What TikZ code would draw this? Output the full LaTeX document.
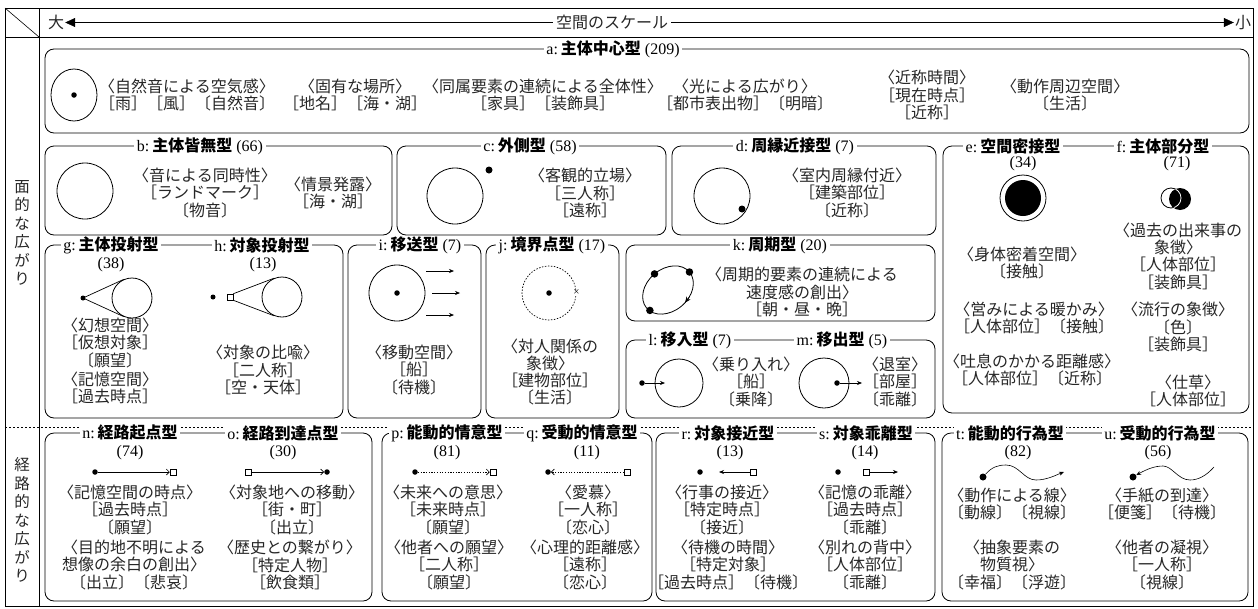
\documentclass[tikz,border=0pt]{standalone}
\usepackage{fontspec}
\setmainfont{Liberation Serif}
\newfontfamily\jp{Noto Sans CJK JP}
\usetikzlibrary{arrows.meta}
\newcommand\tlab[1]{{\rmfamily\mdseries #1:}\hspace{3pt}}
\newcommand\cnt[1]{\hspace{4pt}{\rmfamily\mdseries (#1)}}
\begin{document}
\begin{tikzpicture}[x=1pt,y=-1pt,
 box/.style={draw,line width=0.8pt,rounded corners=9pt},
 ttl/.style={fill=white,inner xsep=2.5pt,inner ysep=0.5pt,font=\jp\bfseries\fontsize{16}{18}\selectfont},
 num/.style={inner sep=0pt,font=\rmfamily\fontsize{16}{18}\selectfont},
 txt/.style={inner sep=0pt,align=center,text=black!85,font=\jp\fontsize{16}{17.3}\selectfont},
 vtxt/.style={inner sep=0pt,align=center,text=black!85,font=\jp\fontsize{15.5}{18.5}\selectfont},
 dot/.style={circle,fill,inner sep=0pt,minimum size=5.5pt},
 sq/.style={draw,fill=white,inner sep=0pt,minimum size=6pt,line width=0.5pt},
 ring/.style={circle,draw,line width=0.8pt,inner sep=0pt},
 arr/.style={line width=0.6pt,-{Stealth[length=5pt,width=4pt]}},
 barb/.style={line width=0.6pt,-{Straight Barb[length=3pt,width=6pt]}},
 dbarb/.style={line width=0.6pt,dash pattern=on 1.2pt off 1.5pt,-{Straight Barb[length=3pt,width=6pt]}},
 hd/.style={inner sep=1pt,font=\jp\fontsize{16}{17}\selectfont,text=black!85},
]
\useasboundingbox (0,0) rectangle (1258,608);
% frame
\draw[line width=0.8pt] (5,8) rectangle (1253,606);
\draw[line width=0.8pt] (39,8) -- (39,606);
\draw[line width=0.8pt] (5,37) -- (1253,37);
\draw[line width=0.6pt] (5,8) -- (39,37);
\draw[line width=0.7pt,dash pattern=on 1.5pt off 2.5pt] (5,427) -- (1253,427);
% header
\node[hd] (dai) at (56,22.5) {大};
\node[hd] (sho) at (1243,22.5) {小};
\node[hd,fill=white,inner xsep=3pt] (scl) at (612,22.5) {空間のスケール};
\draw[line width=0.6pt,-{Triangle[length=10pt,width=9pt]}] (scl.west) -- (dai.east);
\draw[line width=0.6pt,-{Triangle[length=10pt,width=9pt]}] (scl.east) -- (sho.west);
% vertical labels
\node[vtxt] (v1) at (22,233) {面\\的\\な\\広\\が\\り};
\node[vtxt] (v2) at (22,520) {経\\路\\的\\な\\広\\が\\り};

% ---------- a
\draw[box] (45,49) rectangle (1249,133);
\node[ttl] (ta) at (613,49) {\tlab{a}主体中心型\cnt{209}};
\draw[line width=0.8pt] (74,95) ellipse [x radius=23pt, y radius=26pt];
\node[dot] (adot) at (74,95) {};
\node[txt] (a1) at (187,95) {〈自然音による空気感〉\\［雨］［風］〔自然音〕};
\node[txt] (a2) at (355,95) {〈固有な場所〉\\［地名］［海・湖］};
\node[txt] (a3) at (543,95) {〈同属要素の連続による全体性〉\\［家具］［装飾具］};
\node[txt] (a4) at (745,95) {〈光による広がり〉\\［都市表出物］〔明暗〕};
\node[txt] (a5) at (927,95) {〈近称時間〉\\［現在時点］\\［近称］};
\node[txt] (a6) at (1065,95) {〈動作周辺空間〉\\〔生活〕};

% ---------- b
\draw[box] (45,146) rectangle (392,235);
\node[ttl] (tb) at (200,146) {\tlab{b}主体皆無型\cnt{66}};
\node[ring,minimum size=56pt] (bc) at (85,191) {};
\node[txt] (b1) at (205,193) {〈音による同時性〉\\［ランドマーク］\\〔物音〕};
\node[txt] (b2) at (333,193) {〈情景発露〉\\［海・湖］};
% ---------- c
\draw[box] (397,146) rectangle (666,235);
\node[ttl] (tc) at (530,146) {\tlab{c}外側型\cnt{58}};
\node[ring,minimum size=56pt] (cc) at (455,196) {};
\node[dot,minimum size=7pt] (cdot) at (489,170) {};
\node[txt] (c1) at (585,193) {〈客観的立場〉\\［三人称］\\［遠称］};
% ---------- d
\draw[box] (672,146) rectangle (936,235);
\node[ttl] (td) at (795,146) {\tlab{d}周縁近接型\cnt{7}};
\node[ring,minimum size=56pt] (dc) at (722,196) {};
\node[dot,minimum size=7pt] (ddot) at (742,209) {};
\node[txt] (d1) at (847,193) {〈室内周縁付近〉\\［建築部位］\\〔近称〕};
% ---------- e/f
\draw[box] (943,146) rectangle (1249,413);
\node[ttl] (te) at (1013,146) {\tlab{e}空間密接型};
\node[ttl] (tf) at (1163,146) {\tlab{f}主体部分型};
\node[num] (ne) at (1023,164) {(34)};
\node[num] (nf) at (1177,164) {(71)};
\node[ring,minimum size=46pt] (eo) at (1023,198) {};
\node[circle,fill,inner sep=0pt,minimum size=36pt] (ei) at (1023,198) {};
\node[circle,fill,inner sep=0pt,minimum size=22pt] (fb) at (1180,199) {};
\node[ring,minimum size=20pt] (fa) at (1171,198) {};
\begin{scope}
\clip (1180,199) circle (10.6pt);
\draw[white,line width=0.8pt] (1171,198) circle (10pt);
\end{scope}
\node[txt] (e1) at (1022,263) {〈身体密着空間〉\\〔接触〕};
\node[txt] (f1) at (1178,256) {〈過去の出来事の\\象徴〉\\［人体部位］\\［装飾具］};
\node[txt] (e2) at (1034,318) {〈営みによる暖かみ〉\\［人体部位］〔接触〕};
\node[txt] (f2) at (1178,327) {〈流行の象徴〉\\〔色〕\\［装飾具］};
\node[txt] (e3) at (1032,370) {〈吐息のかかる距離感〉\\［人体部位］〔近称〕};
\node[txt] (f3) at (1188,391) {〈仕草〉\\［人体部位］};

% ---------- g/h
\draw[box] (45,245) rectangle (343,418);
\node[ttl] (tg) at (111,245) {\tlab{g}主体投射型};
\node[ttl] (th) at (262,245) {\tlab{h}対象投射型};
\node[num] (ng) at (111,265) {(38)};
\node[num] (nh) at (263,265) {(13)};
\node[dot,minimum size=5pt] (gdot) at (83,298) {};
\node[ring,minimum size=40pt] (gc) at (132,298) {};
\draw[line width=0.7pt] (gdot.center) -- (gc.114);
\draw[line width=0.7pt] (gdot.center) -- (gc.246);
\node[txt] (g1) at (110,343) {〈幻想空間〉\\［仮想対象］\\〔願望〕};
\node[txt] (g2) at (110,388) {〈記憶空間〉\\［過去時点］};
\node[dot,minimum size=5pt] (hdot) at (213,297) {};
\node[sq] (hsq) at (230,297) {};
\node[ring,minimum size=40pt] (hc) at (282,297) {};
\draw[line width=0.7pt] (hsq.north east) -- (hc.113);
\draw[line width=0.7pt] (hsq.south east) -- (hc.247);
\node[txt] (h1) at (263,370) {〈対象の比喩〉\\［二人称］\\［空・天体］};
% ---------- i
\draw[box] (348,245) rectangle (481,418);
\node[ttl] (ti) at (420,245) {\tlab{i}移送型\cnt{7}};
\node[ring,minimum size=56pt] (ic) at (397,293) {};
\node[dot] (idot) at (ic) {};
\coordinate (i1s) at (426,271); \coordinate (i1e) at (454,271);
\coordinate (i2s) at (432,293); \coordinate (i2e) at (460,293);
\coordinate (i3s) at (426,315); \coordinate (i3e) at (454,315);
\draw[arr] (i1s) -- (i1e);
\draw[arr] (i2s) -- (i2e);
\draw[arr] (i3s) -- (i3e);
\node[txt] (i1) at (414,370) {〈移動空間〉\\［船］\\〔待機〕};
% ---------- j
\draw[box] (486,245) rectangle (619,418);
\node[ttl] (tj) at (552,245) {\tlab{j}境界点型\cnt{17}};
\node[circle,draw,line width=0.7pt,dash pattern=on 1.5pt off 1.5pt,inner sep=0pt,minimum size=54pt] (jc) at (549,293) {};
\node[dot] (jdot) at (jc) {};
\node[inner sep=0pt,fill=white,font=\rmfamily\fontsize{11}{11}\selectfont] (jx) at (jc.east) {×};
\node[txt] (j1) at (550,372) {〈対人関係の\\象徴〉\\［建物部位］\\〔生活〕};
% ---------- k
\draw[box] (626,245) rectangle (935,321);
\node[ttl] (tk) at (780,245) {\tlab{k}周期型\cnt{20}};
\begin{scope}[rotate around={40:(668,290)}]
\draw[line width=0.8pt] (668,290) ellipse [x radius=28pt, y radius=21pt];
\node[dot,minimum size=7.5pt] (k1) at (696,290) {};
\node[dot,minimum size=7.5pt] (k2) at (668,269) {};
\node[dot,minimum size=7.5pt] (k3) at (641,294) {};
\coordinate (kas) at (679.8,309.0);
\coordinate (kae) at (672.9,310.7);
\draw[line width=0.6pt,-{Stealth[length=6pt,width=5pt]}] (kas) -- (kae);
\end{scope}
\node[txt] (k4) at (802,292) {〈周期的要素の連続による\\速度感の創出〉\\［朝・昼・晩］};
% ---------- l/m
\draw[box] (626,340) rectangle (935,418);
\node[ttl] (tl) at (690,340) {\tlab{l}移入型\cnt{7}};
\node[ttl] (tm) at (842,340) {\tlab{m}移出型\cnt{5}};
\node[dot] (ldot) at (642,383) {};
\node[ring,minimum size=48pt] (lc) at (679,383) {};
\coordinate (lae) at (665,383);
\draw[arr] (ldot) -- (lae);
\node[txt] (l1) at (751,382) {〈乗り入れ〉\\［船］\\〔乗降〕};
\node[ring,minimum size=50pt] (mc) at (824,383) {};
\node[dot] (mdot) at (837,383) {};
\coordinate (mae) at (862,383);
\draw[arr] (mdot) -- (mae);
\node[txt] (m1) at (895,382) {〈退室〉\\［部屋］\\〔乖離〕};

% ---------- n/o
\draw[box] (45,433) rectangle (372,601);
\node[ttl] (tn) at (130,433) {\tlab{n}経路起点型};
\node[ttl] (to) at (283,433) {\tlab{o}経路到達点型};
\node[num] (nn) at (130,453) {(74)};
\node[num] (no) at (283,453) {(30)};
\node[dot] (ndot) at (95,472) {};
\node[sq] (nsq) at (173,472) {};
\draw[barb] (ndot) -- (nsq);
\node[sq] (osq) at (248,472) {};
\node[dot] (odot) at (327,472) {};
\draw[barb] (osq) -- (odot);
\node[txt] (n1) at (130,510) {〈記憶空間の時点〉\\［過去時点］\\〔願望〕};
\node[txt] (n2) at (134,565) {〈目的地不明による\\想像の余白の創出〉\\〔出立〕〔悲哀〕};
\node[txt] (o1) at (292,510) {〈対象地への移動〉\\［街・町］\\〔出立〕};
\node[txt] (o2) at (290,565) {〈歴史との繋がり〉\\［特定人物］\\［飲食類］};
% ---------- p/q
\draw[box] (382,433) rectangle (652,601);
\node[ttl] (tp) at (447,433) {\tlab{p}能動的情意型};
\node[ttl] (tq) at (582,433) {\tlab{q}受動的情意型};
\node[num] (np) at (447,453) {(81)};
\node[num] (nq) at (587,453) {(11)};
\node[dot] (pdot) at (415,472) {};
\node[sq] (psq) at (493,472) {};
\draw[dbarb] (pdot) -- (psq);
\node[dot] (qdot) at (548,472) {};
\node[sq] (qsq) at (627,472) {};
\draw[dbarb] (qsq) -- (qdot);
\node[txt] (p1) at (448,510) {〈未来への意思〉\\［未来時点］\\〔願望〕};
\node[txt] (p2) at (449,565) {〈他者への願望〉\\［二人称］\\〔願望〕};
\node[txt] (q1) at (588,510) {〈愛慕〉\\［一人称］\\〔恋心〕};
\node[txt] (q2) at (585,565) {〈心理的距離感〉\\［遠称］\\〔恋心〕};
% ---------- r/s
\draw[box] (656,433) rectangle (935,601);
\node[ttl] (tr) at (728,433) {\tlab{r}対象接近型};
\node[ttl] (ts) at (866,433) {\tlab{s}対象乖離型};
\node[num] (nr) at (730,453) {(13)};
\node[num] (ns) at (865,453) {(14)};
\node[dot] (rdot) at (700,472) {};
\node[sq] (rsq) at (753,472) {};
\coordinate (rae) at (719,472);
\draw[arr] (rsq) -- (rae);
\node[dot] (sdot) at (838,472) {};
\node[sq] (ssq) at (866,472) {};
\coordinate (sae) at (898,472);
\draw[arr] (ssq) -- (sae);
\node[txt] (r1) at (722,510) {〈行事の接近〉\\［特定時点］\\〔接近〕};
\node[txt] (r2) at (728,565) {〈待機の時間〉\\［特定対象］\\［過去時点］〔待機〕};
\node[txt] (s1) at (865,510) {〈記憶の乖離〉\\［過去時点］\\〔乖離〕};
\node[txt] (s2) at (865,565) {〈別れの背中〉\\［人体部位］\\〔乖離〕};
% ---------- t/u
\draw[box] (942,433) rectangle (1248,601);
\node[ttl] (tt) at (1010,433) {\tlab{t}能動的行為型};
\node[ttl] (tu) at (1160,433) {\tlab{u}受動的行為型};
\node[num] (nt) at (1018,453) {(82)};
\node[num] (nu) at (1158,453) {(56)};
\node[dot,minimum size=7pt] (tdot) at (983,477) {};
\coordinate (tae) at (1064,472);
\draw[arr] (tdot) .. controls (992,467) and (998,465) .. (1006,465)
  .. controls (1019,465) and (1024,480) .. (1036,480)
  .. controls (1047,480) and (1056,475) .. (tae);
\node[dot,minimum size=7pt] (udot) at (1133,477) {};
\coordinate (us) at (1214,467);
\draw[arr] (us) .. controls (1206,476) and (1198,480) .. (1190,480)
  .. controls (1178,480) and (1172,466) .. (1163,466)
  .. controls (1155,466) and (1147,469) .. (udot);
\node[txt] (t1) at (1012,504) {〈動作による線〉\\〔動線〕〔視線〕};
\node[txt] (t2) at (1012,565) {〈抽象要素の\\物質視〉\\〔幸福〕〔浮遊〕};
\node[txt] (u1) at (1162,504) {〈手紙の到達〉\\［便箋］〔待機〕};
\node[txt] (u2) at (1162,565) {〈他者の凝視〉\\［一人称］\\〔視線〕};
\end{tikzpicture}
\end{document}
